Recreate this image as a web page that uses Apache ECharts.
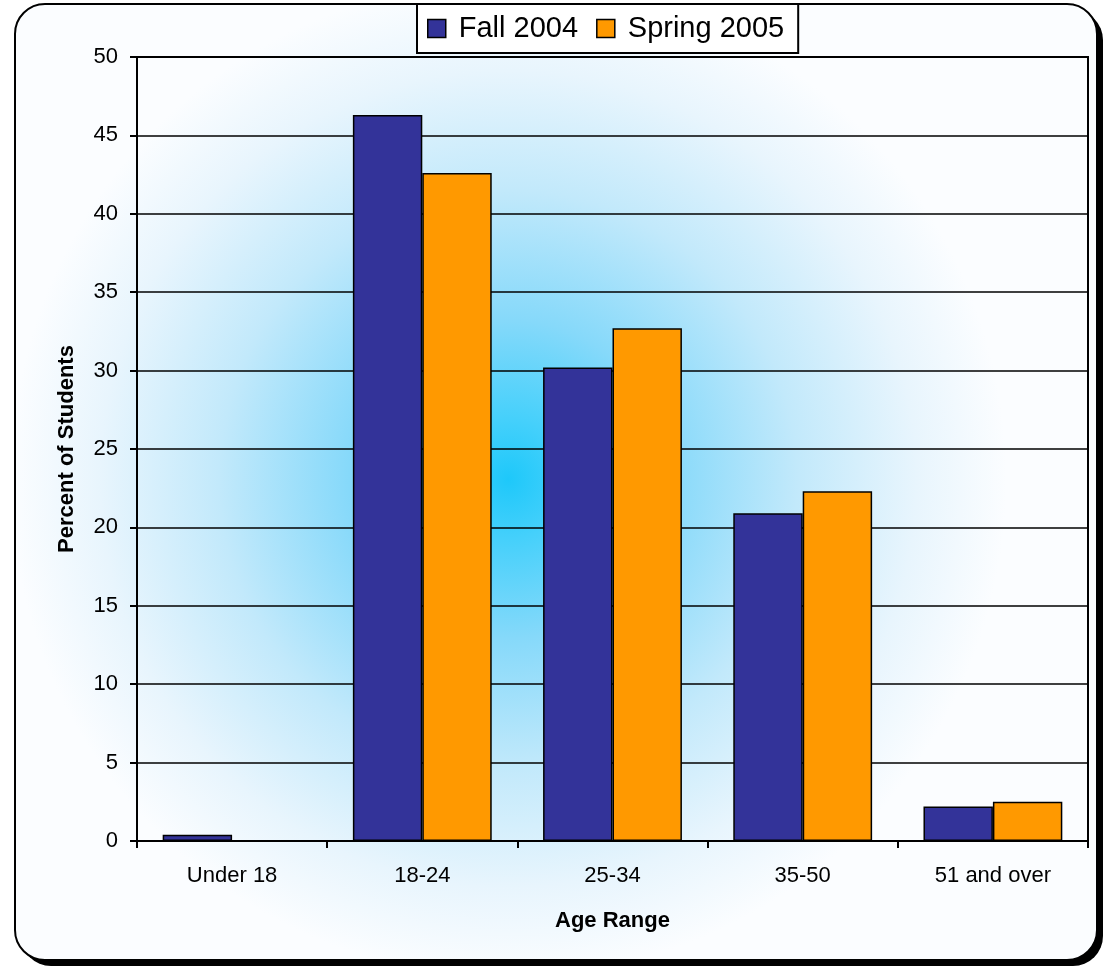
<!DOCTYPE html>
<html>
<head>
<meta charset="utf-8">
<script src="https://cdn.jsdelivr.net/npm/echarts@6/dist/echarts.min.js"></script>
<style>
html,body{margin:0;padding:0;background:#fff;}
#chart{width:1111px;height:970px;}
</style>
</head>
<body>
<div id="chart"></div>
<script>
var categories = ['Under 18', '18-24', '25-34', '35-50', '51 and over'];
var fall2004 = [0.4, 46.3, 30.2, 20.9, 2.2];
var spring2005 = [0, 42.6, 32.7, 22.3, 2.5];
var yTicks = [0, 5, 10, 15, 20, 25, 30, 35, 40, 45, 50];

var FONT = '"Liberation Sans", Arial, sans-serif';
var chart = echarts.init(document.getElementById('chart'), null, {renderer: 'canvas'});

chart.setOption({
  animation: false,
  backgroundColor: '#ffffff',
  textStyle: {fontFamily: FONT},
  graphic: [{
    type: 'rect',
    z: -11,
    silent: true,
    shape: {x: 21, y: 10, width: 1082, height: 956, r: 30},
    style: {fill: '#000'}
  }, {
    type: 'rect',
    z: -10,
    silent: true,
    shape: {x: 15, y: 4, width: 1082, height: 956, r: 30},
    style: {
      fill: {
        type: 'radial', x: 0.456, y: 0.497, r: 0.52,
        colorStops: [
          {offset: 0, color: '#1ec8fa'},
          {offset: 0.12, color: '#45d0fb'},
          {offset: 0.32, color: '#86d9fa'},
          {offset: 0.58, color: '#c2e9fb'},
          {offset: 0.82, color: '#e8f5fd'},
          {offset: 1, color: '#fbfdff'}
        ]
      },
      stroke: '#000',
      lineWidth: 2
    }
  }],
  legend: {
    left: 417,
    top: 4,
    padding: [10, 14, 10, 10],
    itemGap: 18,
    itemWidth: 18,
    itemHeight: 18,
    icon: 'rect',
    backgroundColor: '#ffffff',
    borderColor: '#000',
    borderWidth: 2,
    borderRadius: 0,
    itemStyle: {borderColor: '#000', borderWidth: 1.5},
    textStyle: {fontFamily: FONT, fontSize: 29, color: '#000', padding: [0, 0, 0, 8]},
    data: ['Fall 2004', 'Spring 2005']
  },
  grid: {
    left: 137, right: 23, top: 57, bottom: 129,
    show: true,
    borderColor: '#000',
    borderWidth: 2,
    backgroundColor: 'transparent'
  },
  xAxis: {
    type: 'category',
    data: categories,
    boundaryGap: true,
    name: 'Age Range',
    nameLocation: 'middle',
    nameGap: 69,
    nameTextStyle: {fontFamily: FONT, fontSize: 22, fontWeight: 'bold', color: '#000'},
    axisLine: {show: true, lineStyle: {color: '#000', width: 2}},
    axisTick: {show: true, alignWithLabel: false, length: 7, lineStyle: {color: '#000', width: 2}},
    axisLabel: {fontFamily: FONT, fontSize: 22, color: '#000', margin: 24}
  },
  yAxis: {
    type: 'value',
    min: 0, max: 50, interval: 5,
    name: 'Percent of Students',
    nameLocation: 'middle',
    nameGap: 59,
    nameRotate: 90,
    nameTextStyle: {fontFamily: FONT, fontSize: 22, fontWeight: 'bold', color: '#000'},
    axisLine: {show: true, lineStyle: {color: '#000', width: 2}},
    axisTick: {show: true, length: 7, lineStyle: {color: '#000', width: 2}},
    axisLabel: {fontFamily: FONT, fontSize: 22, color: '#000', margin: 19,
      formatter: function (v) { return yTicks.indexOf(v) >= 0 ? String(v) : ''; }},
    splitLine: {show: true, lineStyle: {color: '#000', width: 1.6}}
  },
  series: [{
    name: 'Fall 2004',
    type: 'bar',
    data: fall2004,
    barGap: '0%',
    barCategoryGap: '27%',
    itemStyle: {color: '#333399', borderColor: '#000', borderWidth: 1.5}
  }, {
    name: 'Spring 2005',
    type: 'bar',
    data: spring2005,
    barGap: '0%',
    barCategoryGap: '27%',
    itemStyle: {color: '#ff9900', borderColor: '#000', borderWidth: 1.5}
  }]
});
</script>
</body>
</html>
